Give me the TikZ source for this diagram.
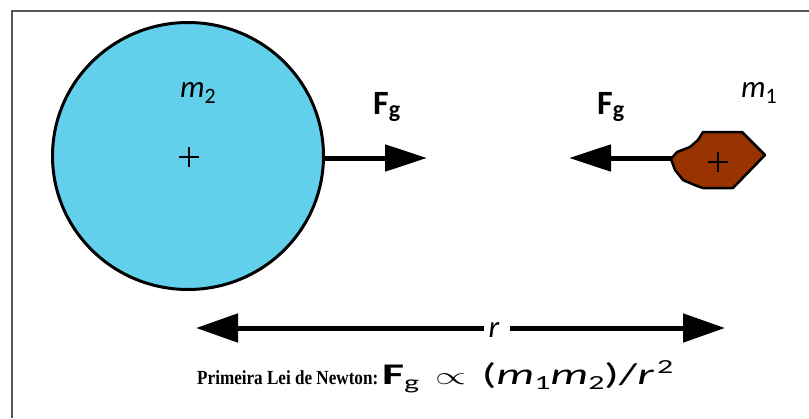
\documentclass[tikz,border=0pt]{standalone}
\usepackage{fontspec}
\setmainfont{Carlito}
\newfontfamily\serifbold{Liberation Serif}
\usetikzlibrary{arrows.meta,shapes.geometric}
\definecolor{planetblue}{HTML}{62CFEB}
\definecolor{rockbrown}{HTML}{993300}
\definecolor{framegray}{HTML}{555555}
\newcommand\mysub[2]{\raisebox{-#2}{#1}}
\begin{document}
\begin{tikzpicture}[x=1pt,y=-1pt,
  forcearrow/.style={line width=5pt,-{Triangle[length=42pt,width=26pt]}},
  distarrow/.style={line width=5pt,-{Triangle[length=42pt,width=28pt]}},
  bigtext/.style={inner sep=0pt,anchor=base west,font=\fontsize{31}{31}\selectfont},
  plusmark/.style={line width=1.3pt},
  ]
\useasboundingbox (0,0) rectangle (809,418);
% frame (left and top only visible)
\draw[framegray,line width=2.5pt] (12,418) -- (12,11) -- (809,11);
% big body
\node[ellipse,draw=black,line width=3pt,fill=planetblue,inner sep=0pt,
      minimum width=271pt,minimum height=267pt] (m2body) at (188,156) {};
\draw[plusmark] (179,157) -- (199,157) (189,147) -- (189,167);
% small body
\draw[fill=rockbrown,line width=2.5pt,line join=round]
  (703,132) -- (742,132) -- (765,155) -- (733,188) -- (703,188)
  -- (697,186) -- (683,180) -- (675,170) -- (671,159) -- (677,152)
  -- (690,147) -- (698,140) -- cycle;
\coordinate (m1body) at (672,158);
\draw[plusmark] (708,162) -- (728,162) (718,152) -- (718,172);
% forces
\coordinate (tipR) at (427,158);
\coordinate (tipL) at (569,158);
\draw[forcearrow] (m2body.east |- 0,158) -- (tipR);
\draw[forcearrow] (m1body) -- (tipL);
% labels
\node[bigtext] (lm2) at (180,97) {\itshape m\mysub{\fontsize{22}{22}\selectfont\upshape 2}{6pt}};
\node[bigtext] (lm1) at (741,97) {\itshape m\mysub{\fontsize{22}{22}\selectfont\upshape 1}{6pt}};
\node[bigtext,font=\fontsize{34}{34}\selectfont] (fgR) at (373,114) {\bfseries F\mysub{\fontsize{24}{24}\selectfont g}{3pt}};
\node[bigtext,font=\fontsize{34}{34}\selectfont] (fgL) at (597,114) {\bfseries F\mysub{\fontsize{24}{24}\selectfont g}{3pt}};
% distance
\node[bigtext,anchor=base] (rlab) at (494,337) {\itshape r};
\coordinate (rL) at (196,328);
\coordinate (rR) at (725,328);
\draw[distarrow] (rlab.west |- rL) ++(-4,0) -- (rL);
\draw[distarrow] (rlab.east |- rR) ++(10,0) -- (rR);
% law
\node[inner sep=0pt,anchor=base west] (lawname) at (197,384)
  {\resizebox{181pt}{\height}{\serifbold\bfseries\fontsize{20}{20}\selectfont Primeira Lei de Newton:}};
\node[inner sep=0pt,anchor=base west] (lawformula) at (382,384)
  {\resizebox{291pt}{\height}{\fontsize{30}{30}\selectfont{\bfseries F}\mysub{\fontsize{20}{20}\selectfont g}{5pt}\hspace{10pt}$\propto$\hspace{10pt}({\itshape m}\mysub{\fontsize{20}{20}\selectfont 1}{5pt}{\itshape m}\mysub{\fontsize{20}{20}\selectfont 2}{5pt})/{\itshape r}\hspace{2pt}\raisebox{11pt}{\fontsize{20}{20}\selectfont 2}}};
\end{tikzpicture}
\end{document}
